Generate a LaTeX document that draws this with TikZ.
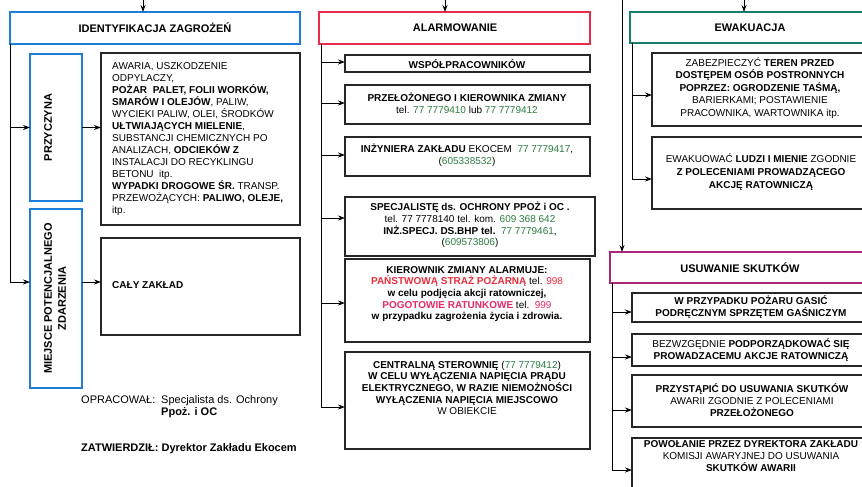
\documentclass[tikz,border=0pt]{standalone}
\usepackage{fontspec}
\setmainfont{Liberation Sans}
\usetikzlibrary{arrows.meta}
\definecolor{cblue}{RGB}{30,125,215}
\definecolor{cred}{RGB}{232,45,75}
\definecolor{cteal}{RGB}{25,125,110}
\definecolor{cpurple}{RGB}{170,40,120}
\definecolor{tgreen}{RGB}{45,125,65}
\definecolor{tred}{RGB}{235,45,60}
\definecolor{tpink}{RGB}{232,40,105}
\tikzset{
  boxbase/.style={draw, rectangle, inner sep=0pt, outer sep=0pt},
  titlebox/.style={boxbase, line width=2.8pt},
  sidebox/.style={boxbase, draw=cblue, line width=2.8pt},
  textbox/.style={boxbase, draw=black!85, line width=1.2pt},
  txt/.style={inner sep=0pt, align=center, font=\fontsize{10}{12}\selectfont},
  ttl/.style={inner sep=0pt, font=\fontsize{11}{14}\selectfont\bfseries},
  foot/.style={inner sep=0pt, anchor=base west, font=\fontsize{11}{13}\selectfont},
  arr/.style={draw=black, line width=0.9pt, -{Stealth[length=7pt,width=5pt]}},
}
\newcommand\mkbox[6]{\node[#1, minimum width={#5-#3}, minimum height={#6-#4}] (#2) at ({(#3+#5)/2},{(#4+#6)/2}) {};}
\begin{document}
\begin{tikzpicture}[x=1pt,y=-1pt]
\useasboundingbox (0,0) rectangle (862,487);
\clip (0,0) rectangle (862,487);
\fill[white] (0,0) rectangle (862,487);

% ---------------- left column
\mkbox{titlebox, draw=cblue}{ident}{10}{12}{300}{44}
\mkbox{sidebox}{przyc}{30}{54}{82}{201}
\mkbox{sidebox}{miejsce}{30}{209}{82}{388}
\mkbox{textbox}{t1}{101}{53}{300}{225}
\mkbox{textbox}{t2}{101}{238}{300}{335}

\node[ttl] (identt) at (155,28) {IDENTYFIKACJA ZAGROŻEŃ};
\node[ttl, rotate=90] (przyct) at (48,127.5) {PRZYCZYNA};
\node[ttl, rotate=90, align=center] (miejscet) at (55,298.5) {MIEJSCE POTENCJALNEGO\\ZDARZENIA};
\node[txt, align=left, anchor=north west] (t1t) at (112,62) {AWARIA, USZKODZENIE\\ODPYLACZY,\\\textbf{POŻAR\ \ PALET, FOLII WORKÓW,}\\\textbf{SMARÓW I OLEJÓW}, PALIW,\\WYCIEKI PALIW, OLEI, ŚRODKÓW\\\textbf{UŁTWIAJĄCYCH MIELENIE},\\SUBSTANCJI CHEMICZNYCH PO\\ANALIZACH, \textbf{ODCIEKÓW Z}\\INSTALACJI DO RECYKLINGU\\BETONU\ \ itp.\\\textbf{WYPADKI DROGOWE ŚR.} TRANSP.\\PRZEWOŻĄCYCH: \textbf{PALIWO, OLEJE,}\\itp.};
\node[txt, anchor=west, font=\fontsize{10}{12}\selectfont\bfseries] (t2t) at (112,285) {CAŁY ZAKŁAD};

\node[foot] (opr) at (81,403) {OPRACOWAŁ:};
\node[foot] (oprb) at (161,403) {Specjalista ds. Ochrony};
\node[foot, font=\fontsize{11}{13}\selectfont\bfseries] (oprc) at (161,415) {Ppoż. i OC};
\node[foot, font=\fontsize{11}{13}\selectfont\bfseries] (zatw) at (81,451) {ZATWIERDZIŁ: Dyrektor Zakładu Ekocem};

\coordinate (in1) at (143,0);
\draw[arr] (in1) -- (in1 |- ident.north);
\draw[arr] (ident.south west) |- (miejsce.west |- 0,282);
\draw[arr] (ident.south west |- przyc.west) -- (przyc.west);
\draw[arr] (przyc.east) -- (przyc.east -| t1.west);
\draw[arr] (miejsce.east |- 0,282) -- (t2.west |- 0,282);

% ---------------- middle column
\mkbox{titlebox, draw=cred}{alarm}{319}{12}{590}{44}
\mkbox{textbox}{m1}{345}{55}{590}{72}
\mkbox{textbox}{m2}{345}{85}{590}{124}
\mkbox{textbox}{m3}{345}{137}{590}{176}
\mkbox{textbox}{m4}{345}{197}{595}{256}
\mkbox{textbox}{m5}{345}{259}{590}{342}
\mkbox{textbox}{m6}{345}{352}{590}{449}

\node[ttl] (alarmt) at (455,28) {ALARMOWANIE};
\node[txt, font=\fontsize{10}{12}\selectfont\bfseries] (m1t) at (467,64) {WSPÓŁPRACOWNIKÓW};
\node[txt] (m2t) at (467,103.5) {\textbf{PRZEŁOŻONEGO I KIEROWNIKA ZMIANY}\\tel. {\color{tgreen}77 7779410} lub {\color{tgreen}77 7779412}};
\node[txt] (m3t) at (467,155) {\textbf{INŻYNIERA ZAKŁADU} EKOCEM\ \ {\color{tgreen}77 7779417},\\({\color{tgreen}605338532})};
\node[txt, font=\fontsize{10}{11.7}\selectfont] (m4t) at (470,225) {\textbf{SPECJALISTĘ ds. OCHRONY PPOŻ i OC .}\\tel. 77 7778140 tel. kom. {\color{tgreen}609 368 642}\\\textbf{INŻ.SPECJ. DS.BHP tel.}\ \ {\color{tgreen}77 7779461},\\({\color{tgreen}609573806})};
\node[txt, font=\fontsize{10}{11.7}\selectfont] (m5t) at (467,294) {\textbf{KIEROWNIK ZMIANY ALARMUJE:}\\{\color{tred}\textbf{PAŃSTWOWĄ STRAŻ POŻARNĄ}} tel. {\color{tred}998}\\\textbf{w celu podjęcia akcji ratowniczej,}\\{\color{tpink}\textbf{POGOTOWIE RATUNKOWE}} tel.\ \ {\color{tpink}999}\\\textbf{w przypadku zagrożenia życia i zdrowia.}};
\node[txt, font=\fontsize{10}{11.7}\selectfont] (m6t) at (467,388) {\textbf{CENTRALNĄ STEROWNIĘ} ({\color{tgreen}77 7779412})\\\textbf{W CELU WYŁĄCZENIA NAPIĘCIA PRĄDU}\\\textbf{ELEKTRYCZNEGO, W RAZIE NIEMOŻNOŚCI}\\\textbf{WYŁĄCZENIA NAPIĘCIA MIEJSCOWO}\\W OBIEKCIE};

\coordinate (in2) at (445,0);
\draw[arr] (in2) -- (in2 |- alarm.north);
\coordinate (mt) at (321,44);
\draw[arr] (mt) |- (m6.west |- 0,407);
\draw[arr] (mt |- 0,62) -- (m1.west |- 0,62);
\draw[arr] (mt |- 0,103) -- (m2.west |- 0,103);
\draw[arr] (mt |- 0,155) -- (m3.west |- 0,155);
\draw[arr] (mt |- 0,218) -- (m4.west |- 0,218);
\draw[arr] (mt |- 0,303) -- (m5.west |- 0,303);

% ---------------- right column
\mkbox{titlebox, draw=cteal}{ewak}{630}{12}{870}{43}
\mkbox{textbox}{r1}{652}{53}{870}{126}
\mkbox{textbox}{r2}{652}{137}{870}{209}
\mkbox{titlebox, draw=cpurple}{usuw}{610}{252}{870}{283}
\mkbox{textbox}{r3}{632}{293}{870}{322}
\mkbox{textbox}{r4}{632}{334}{870}{366}
\mkbox{textbox}{r5}{632}{375}{870}{427}
\mkbox{textbox}{r6}{632}{438}{870}{500}

\node[ttl] (ewakt) at (750,27.5) {EWAKUACJA};
\node[ttl] (usuwt) at (740,267.5) {USUWANIE SKUTKÓW};
\node[txt, font=\fontsize{10}{12.5}\selectfont] (r1t) at (760,88) {ZABEZPIECZYĆ \textbf{TEREN PRZED}\\\textbf{DOSTĘPEM OSÓB POSTRONNYCH}\\\textbf{POPRZEZ: OGRODZENIE TAŚMĄ,}\\BARIERKAMI; POSTAWIENIE\\PRACOWNIKA, WARTOWNIKA itp.};
\node[txt, font=\fontsize{10}{12.8}\selectfont] (r2t) at (761,172) {EWAKUOWAĆ \textbf{LUDZI I MIENIE} ZGODNIE\\\textbf{Z POLECENIAMI PROWADZĄCEGO}\\\textbf{AKCJĘ RATOWNICZĄ}};
\node[txt] (r3t) at (751,307.5) {\textbf{W PRZYPADKU POŻARU GASIĆ}\\\textbf{PODRĘCZNYM SPRZĘTEM GAŚNICZYM}};
\node[txt] (r4t) at (751,350) {BEZWZGĘDNIE \textbf{PODPORZĄDKOWAĆ SIĘ}\\\textbf{PROWADZACEMU AKCJE RATOWNICZĄ}};
\node[txt] (r5t) at (752,400) {\textbf{PRZYSTĄPIĆ DO USUWANIA SKUTKÓW}\\AWARII ZGODNIE Z POLECENIAMI\\\textbf{PRZEŁOŻONEGO}};
\node[txt] (r6t) at (751,456) {\textbf{POWOŁANIE PRZEZ DYREKTORA ZAKŁADU}\\KOMISJI AWARYJNEJ DO USUWANIA\\\textbf{SKUTKÓW AWARII}};

\coordinate (in3) at (744,0);
\draw[arr] (in3) -- (in3 |- ewak.north);
\coordinate (in4) at (622,0);
\draw[arr] (in4) -- (in4 |- usuw.north);
\coordinate (rt) at (632,43);
\draw[arr] (rt) |- (r2.west |- 0,179);
\draw[arr] (rt |- 0,95) -- (r1.west |- 0,95);
\coordinate (ut) at (612,283);
\draw[arr] (ut) |- (r6.west |- 0,470);
\draw[arr] (ut |- 0,312) -- (r3.west |- 0,312);
\draw[arr] (ut |- 0,357) -- (r4.west |- 0,357);
\draw[arr] (ut |- 0,410) -- (r5.west |- 0,410);
\end{tikzpicture}
\end{document}
